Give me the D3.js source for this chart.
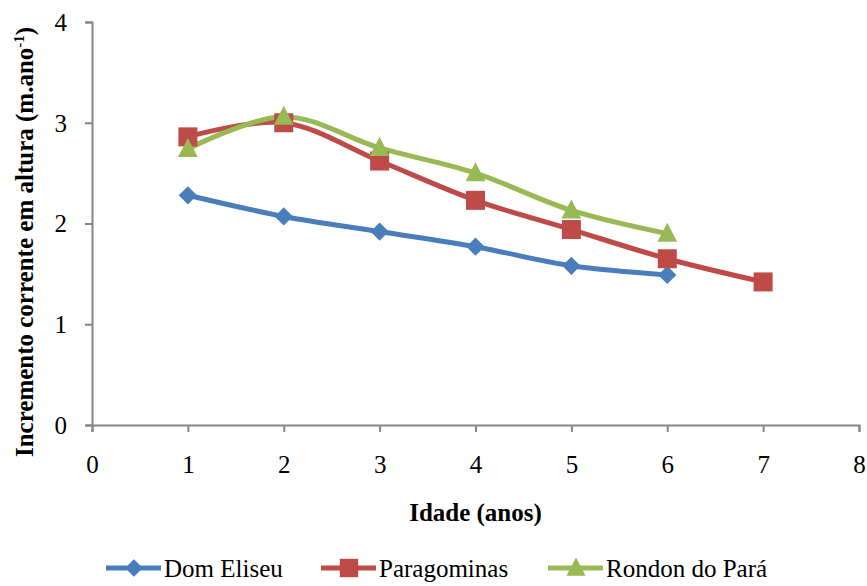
<html><head><meta charset="utf-8"><script src="https://cdn.jsdelivr.net/npm/d3@7"></script></head><body style="margin:0">
<svg id="c" width="867" height="586" style="font-family:'Liberation Serif'"></svg>
<script>
const seriesNames = ["Dom Eliseu", "Paragominas", "Rondon do Pará"];
const domEliseuX = [1, 2, 3, 4, 5, 6];
const domEliseuY = [2.28, 2.07, 1.92, 1.77, 1.58, 1.49];
const paragominasX = [1, 2, 3, 4, 5, 6, 7];
const paragominasY = [2.86, 3.00, 2.62, 2.23, 1.94, 1.65, 1.42];
const rondonX = [1, 2, 3, 4, 5, 6];
const rondonY = [2.74, 3.06, 2.75, 2.50, 2.13, 1.90];
const xTicks = [0, 1, 2, 3, 4, 5, 6, 7, 8];
const yTicks = [0, 1, 2, 3, 4];
const colors = ["#4A7EBB", "#BE4B48", "#98B954"];
const FONT = "Liberation Serif";

const svg = d3.select("#c");
const x = d3.scaleLinear().domain([0, 8]).range([92, 859]);
const y = d3.scaleLinear().domain([0, 4]).range([425, 22]);
const axisColor = "#868686";

const xAxis = svg.append("g").attr("transform", `translate(0,${y(0)})`)
  .call(d3.axisBottom(x).tickValues(xTicks).tickSize(7).tickPadding(10).tickFormat(d3.format("d")));
const yAxis = svg.append("g").attr("transform", `translate(${x(0)},0)`)
  .call(d3.axisLeft(y).tickValues(yTicks).tickSize(7).tickPadding(18).tickFormat(d3.format("d")));
[xAxis, yAxis].forEach(g => {
  g.attr("font-family", null).attr("font-size", null);
  g.select(".domain").attr("stroke", axisColor).attr("stroke-width", 2);
  g.selectAll(".tick line").attr("stroke", axisColor).attr("stroke-width", 2);
  g.selectAll(".tick text").attr("fill", "#000").style("font-family", FONT).style("font-size", "25px");
});
xAxis.selectAll(".tick text").attr("y", 48).attr("dy", null);
yAxis.selectAll(".tick text").attr("dy", "0.33em");

svg.append("text").attr("x", 475.5).attr("y", 521).attr("text-anchor", "middle")
  .style("font-family", FONT).style("font-size", "25px").style("font-weight", "bold").text("Idade (anos)");
const yt = svg.append("text").attr("transform", "translate(33,242) rotate(-90)").attr("text-anchor", "middle")
  .style("font-family", FONT).style("font-size", "25px").style("font-weight", "bold");
yt.append("tspan").text("Incremento corrente em altura (m.ano");
yt.append("tspan").attr("dy", "-9").style("font-size", "15px").text("-1");
yt.append("tspan").attr("dy", "9").text(")");

const data = [
  domEliseuX.map((v, i) => [v, domEliseuY[i]]),
  paragominasX.map((v, i) => [v, paragominasY[i]]),
  rondonX.map((v, i) => [v, rondonY[i]])
];
const line = d3.line().x(d => x(d[0])).y(d => y(d[1])).curve(d3.curveCatmullRom.alpha(0.5));

function marker(sel, i, s) {
  if (i === 0) {
    sel.append("rect").attr("x", -s * 0.68).attr("y", -s * 0.68).attr("width", s * 1.36).attr("height", s * 1.36)
      .attr("transform", "rotate(45)").attr("fill", colors[i]);
  } else if (i === 1) {
    sel.append("rect").attr("x", -s).attr("y", -s).attr("width", 2 * s).attr("height", 2 * s).attr("fill", colors[i]);
  } else {
    sel.append("path").attr("d", `M0,${-s * 1.15}L${s * 1.04},${s * 0.85}L${-s * 1.04},${s * 0.85}Z`).attr("fill", colors[i]);
  }
}

data.forEach((pts, i) => {
  svg.append("path").attr("d", line(pts)).attr("fill", "none")
    .attr("stroke", colors[i]).attr("stroke-width", 5).attr("stroke-linejoin", "round");
});
data.forEach((pts, i) => {
  pts.forEach(d => {
    const g = svg.append("g").attr("transform", `translate(${x(d[0])},${y(d[1])})`);
    marker(g, i, 9.5);
  });
});

// legend
const legendX = [106, 321, 548];
seriesNames.forEach((n, i) => {
  const g = svg.append("g").attr("transform", `translate(${legendX[i]},568)`);
  g.append("line").attr("x1", 0).attr("x2", 55).attr("stroke", colors[i]).attr("stroke-width", 5);
  const m = g.append("g").attr("transform", "translate(28,0)");
  marker(m, i, 9.2);
  g.append("text").attr("x", 58).attr("y", 9)
    .style("font-family", FONT).style("font-size", "25px").text(n);
});
</script></body></html>
